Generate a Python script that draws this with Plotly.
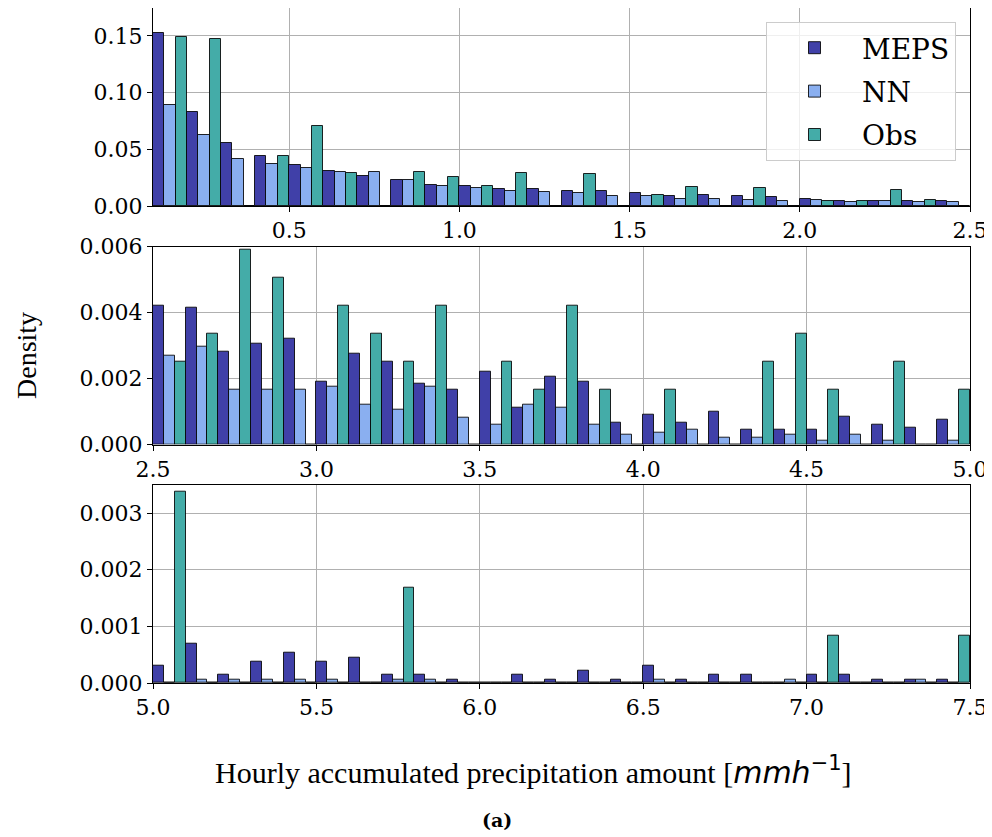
import plotly.graph_objects as go

# ---------------- data ----------------
series = ["MEPS", "NN", "Obs"]

# bin centres (bin width 0.1)
bins_p1 = [0.15, 0.25, 0.35, 0.45, 0.55, 0.65, 0.75, 0.85, 0.95, 1.05, 1.15, 1.25,
           1.35, 1.45, 1.55, 1.65, 1.75, 1.85, 1.95, 2.05, 2.15, 2.25, 2.35, 2.45]
meps_p1 = [0.1529, 0.0829, 0.0553, 0.0438, 0.0359, 0.0309, 0.0265, 0.0226, 0.0188, 0.0179, 0.0153, 0.0153,
           0.0135, 0.0129, 0.0118, 0.0085, 0.0100, 0.0085, 0.0079, 0.0062, 0.0044, 0.0041, 0.0047, 0.0041]
nn_p1 = [0.0888, 0.0624, 0.0418, 0.0371, 0.0332, 0.0303, 0.0297, 0.0226, 0.0179, 0.0156, 0.0129, 0.0126,
         0.0112, 0.0091, 0.0085, 0.0059, 0.0065, 0.0056, 0.0044, 0.0056, 0.0038, 0.0044, 0.0038, 0.0038]
obs_p1 = [0.1488, 0.1476, 0.0, 0.0438, 0.0706, 0.0294, 0.0, 0.0300, 0.0253, 0.0173, 0.0291, 0.0,
          0.0282, 0.0, 0.0100, 0.0168, 0.0, 0.0156, 0.0, 0.0044, 0.0044, 0.0144, 0.0053, 0.0]

bins_p2 = [2.55, 2.65, 2.75, 2.85, 2.95, 3.05, 3.15, 3.25, 3.35, 3.45, 3.55, 3.65, 3.75,
           3.85, 3.95, 4.05, 4.15, 4.25, 4.35, 4.45, 4.55, 4.65, 4.75, 4.85, 4.95]
meps_p2 = [0.00421, 0.00414, 0.00283, 0.00305, 0.00321, 0.00190, 0.00275, 0.00252, 0.00183, 0.00167,
           0.00220, 0.00113, 0.00205, 0.00190, 0.00067, 0.00091, 0.00067, 0.00098, 0.00044, 0.00044,
           0.00044, 0.00083, 0.00060, 0.00052, 0.00075]
nn_p2 = [0.00268, 0.00298, 0.00167, 0.00167, 0.00167, 0.00176, 0.00121, 0.00105, 0.00176, 0.00082,
         0.00060, 0.00121, 0.00113, 0.00060, 0.00029, 0.00036, 0.00044, 0.00021, 0.00021, 0.00029,
         0.00013, 0.00029, 0.00013, 0.0, 0.00013]
obs_p2 = [0.00252, 0.00336, 0.00591, 0.00505, 0.0, 0.00421, 0.00336, 0.00252, 0.00421, 0.0,
          0.00252, 0.00167, 0.00421, 0.00167, 0.0, 0.00167, 0.0, 0.0, 0.00252, 0.00336,
          0.00167, 0.0, 0.00252, 0.0, 0.00167]

bins_p3 = [5.05, 5.15, 5.25, 5.35, 5.45, 5.55, 5.65, 5.75, 5.85, 5.95, 6.05, 6.15, 6.25,
           6.35, 6.45, 6.55, 6.65, 6.75, 6.85, 6.95, 7.05, 7.15, 7.25, 7.35, 7.45]
meps_p3 = [0.00030, 0.00069, 0.00015, 0.00038, 0.00053, 0.00038, 0.00045, 0.00015, 0.00015, 0.000065,
           0.0, 0.00015, 0.000065, 0.00022, 0.000065, 0.00030, 0.000065, 0.00015, 0.00015, 0.0,
           0.00015, 0.00015, 0.000065, 0.000065, 0.000065]
nn_p3 = [0.0, 0.000065, 0.000065, 0.000065, 0.000065, 0.000065, 0.0, 0.000065, 0.000065, 0.0,
         0.0, 0.0, 0.0, 0.0, 0.0, 0.000065, 0.0, 0.0, 0.0, 0.000065,
         0.0, 0.0, 0.0, 0.000065, 0.0]
obs_p3 = [0.00338, 0.0, 0.0, 0.0, 0.0, 0.0, 0.0, 0.00169, 0.0, 0.0,
          0.0, 0.0, 0.0, 0.0, 0.0, 0.0, 0.0, 0.0, 0.0, 0.0,
          0.00084, 0.0, 0.0, 0.0, 0.00084]

xticks_p1 = [0.5, 1.0, 1.5, 2.0, 2.5]
xticks_p2 = [2.5, 3.0, 3.5, 4.0, 4.5, 5.0]
xticks_p3 = [5.0, 5.5, 6.0, 6.5, 7.0, 7.5]
yticks_p1 = [0.0, 0.05, 0.10, 0.15]
yticks_p2 = [0.0, 0.002, 0.004, 0.006]
yticks_p3 = [0.0, 0.001, 0.002, 0.003]

# ---------------- styling ----------------
colors = {"MEPS": "rgb(64,64,168)", "NN": "rgb(138,175,240)", "Obs": "rgb(68,172,168)"}
TICKFONT = dict(family="DejaVu Serif", size=22, color="black")
LABELFONT = dict(family="Liberation Serif", size=30, color="black")

panels = [
    (bins_p1, [meps_p1, nn_p1, obs_p1], "x", "y"),
    (bins_p2, [meps_p2, nn_p2, obs_p2], "x2", "y2"),
    (bins_p3, [meps_p3, nn_p3, obs_p3], "x3", "y3"),
]

fig = go.Figure()
for pi, (bins, vals, xa, ya) in enumerate(panels):
    for name, v in zip(series, vals):
        fig.add_trace(go.Bar(
            x=bins, y=v, name=name, xaxis=xa, yaxis=ya,
            legendgroup=name, showlegend=(pi == 0),
            marker=dict(color=colors[name], line=dict(color="rgba(0,0,0,0.85)", width=1)),
        ))

# page body has an 8px margin: figure origin sits at screen (8, 8)
OFF = 8
W, H = 984, 829
ML, MR, MT, MB = 145, 22, 0, 154
PW, PH = W - ML - MR, H - MT - MB


def px(xs):
    return (xs - OFF - ML) / PW


def py(ys):
    return (H - MB - (ys - OFF)) / PH


common_x = dict(showgrid=True, gridcolor="#b0b0b0", gridwidth=1, zeroline=False,
                showline=True, linecolor="black", linewidth=1, mirror=True,
                ticks="outside", ticklen=5, tickcolor="black", tickwidth=1,
                tickfont=TICKFONT, tickformat=".1f", automargin=False)
common_y = dict(showgrid=True, gridcolor="#b0b0b0", gridwidth=1, zeroline=False,
                showline=True, linecolor="black", linewidth=1, mirror=True,
                ticks="outside", ticklen=5, tickcolor="black", tickwidth=1,
                tickfont=TICKFONT, automargin=False)

fig.update_layout(
    width=W, height=H,
    margin=dict(l=ML, r=MR, t=MT, b=MB, autoexpand=False),
    paper_bgcolor="white", plot_bgcolor="white",
    barmode="group", bargap=0, bargroupgap=0,
    font=dict(family="DejaVu Serif", color="black"),
    xaxis=dict(common_x, range=[0.1, 2.5], tickvals=xticks_p1, anchor="y", domain=[0, 1]),
    yaxis=dict(common_y, range=[0, 0.1747], tickvals=yticks_p1, tickformat=".2f",
               anchor="x", domain=[py(206), 1.0]),
    xaxis2=dict(common_x, range=[2.5, 5.0], tickvals=xticks_p2, anchor="y2", domain=[0, 1]),
    yaxis2=dict(common_y, range=[0, 0.006], tickvals=yticks_p2, tickformat=".3f",
                anchor="x2", domain=[py(444.5), py(246.7)]),
    xaxis3=dict(common_x, range=[5.0, 7.5], tickvals=xticks_p3, anchor="y3", domain=[0, 1]),
    yaxis3=dict(common_y, range=[0, 0.0035], tickvals=yticks_p3, tickformat=".3f",
                anchor="x3", domain=[0, py(484.7)]),
    legend=dict(x=px(956), y=py(22), xanchor="right", yanchor="top",
                font=dict(family="DejaVu Serif", size=28, color="black"),
                bgcolor="rgba(255,255,255,0.8)", bordercolor="#cccccc", borderwidth=1,
                itemwidth=85, tracegroupgap=4),
    annotations=[
        dict(text="Hourly accumulated precipitation amount [<span style=\"font-family:'DejaVu Sans'\"><i>mmh</i><sup>−1</sup></span>]",
             x=px(533), y=py(770), xref="paper", yref="paper", showarrow=False,
             xanchor="center", yanchor="middle", font=LABELFONT),
        dict(text="Density", x=px(26), y=py(355), xref="paper", yref="paper", showarrow=False,
             xanchor="center", yanchor="middle", textangle=-90, borderpad=0,
             font=dict(family="Liberation Serif", size=28, color="black")),
        dict(text="<b>(a)</b>", x=px(497), y=py(820), xref="paper", yref="paper", showarrow=False,
             xanchor="center", yanchor="middle",
             font=dict(family="DejaVu Serif", size=19, color="black")),
    ],
)

fig.write_html("out.html")
